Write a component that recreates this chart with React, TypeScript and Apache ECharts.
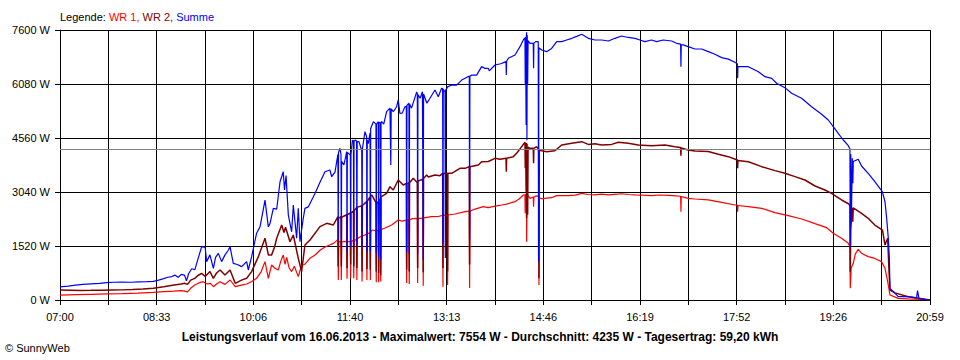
import React, { useEffect, useRef } from "react";
import * as echarts from "echarts";

// time axis: 07:00 .. 20:59, 18 grid steps, labels on every second step
const TICK_LABELS = ["07:00", "08:33", "10:06", "11:40", "13:13", "14:46", "16:19", "17:52", "19:26", "20:59"];
const DAY_MINUTES = 839;
const X_STEPS = 18;
const Y_MAX = 7600;
const Y_STEP = 1520;
const AVERAGE = 4235;

const LEGEND = ["Legende: ", "WR 1, ", "WR 2, ", "Summe"];
const TITLE = "Leistungsverlauf vom 16.06.2013 - Maximalwert: 7554 W - Durchschnitt: 4235 W - Tagesertrag: 59,20 kWh";
const COPYRIGHT = "© SunnyWeb";

// [minutes after 07:00, watts]
const wr1: [number, number][] = [
  [0,140],[15,150],[30,160],[45,170],[60,180],[75,195],[90,215],[100,235],[110,250],[117,263],[120,250],[123,230],[126,330],[130,420],[134,480],[138,516],[142,450],[145,470],[148,375],[151,450],[154.3,516],[159.1,440],[164,563],[169,375],[175,420],[180,450],[185,520],[189.6,610],[194,800],[197.7,1080],[200.9,610],[204.1,985],[207,900],[210.5,845],[213,1100],[215.3,1267],[217,1000],[218.6,1200],[221,900],[223.4,800],[226,950],[229.8,657],[233,985],[236,1000],[241,1173],[246,1267],[251,1407],[256,1500],[260,1548],[264,1600],[268,1700],[268.4,560],[268.8,1650],[271,1640],[271.3,560],[271.6,1640],[276.5,1650],[276.8,600],[277.2,1640],[280,1650],[280.3,610],[280.6,1640],[283,1680],[283.3,610],[283.6,1680],[286,1700],[286.3,560],[286.6,1720],[288,1750],[291,1800],[291.3,520],[291.6,1800],[295.7,1850],[296,560],[296.3,1860],[299,1900],[299.3,560],[299.6,1920],[301,1970],[304.7,1950],[305,500],[305.3,1950],[307,1960],[307.3,500],[307.6,1960],[309,1980],[309.3,520],[309.6,1990],[313,2020],[319.8,2110],[326.2,2252],[330,2220],[334,2250],[334.3,480],[334.6,2250],[336.5,2260],[336.8,450],[337.1,2260],[340,2290],[344.6,2300],[344.9,480],[345.2,2300],[350,2300],[350.3,400],[350.6,2310],[358.4,2346],[364.8,2350],[369,2380],[369.3,375],[369.6,2380],[373.5,2393],[373.8,420],[374.1,2393],[381,2420],[390.6,2486],[394.7,2500],[395,340],[395.3,2500],[400.2,2560],[408.2,2627],[413,2600],[419.5,2640],[425.9,2674],[430.7,2700],[438.8,2768],[443,2850],[446.8,2956],[448.4,2960],[448.6,2440],[448.9,2950],[449.8,3000],[450,1642],[450.4,2900],[451,2950],[453.2,2862],[456.4,2900],[456.7,2627],[457,2900],[459.6,2930],[461.6,2920],[461.9,422],[462.2,2880],[464.5,2850],[469.3,2870],[474.1,2880],[479,2937],[490,2937],[497,2950],[503.1,3003],[509,2970],[515.9,2960],[522,2980],[528.8,2960],[535,2975],[541.6,2990],[548,2970],[554.5,2960],[562,2950],[570.5,2940],[578,2955],[586.6,2945],[594,2930],[598.5,2920],[598.8,2486],[599.1,2910],[605.8,2862],[612.3,2843],[625.2,2820],[638.1,2749],[650.9,2674],[653.2,2670],[653.5,2486],[653.8,2660],[663.8,2627],[676.7,2580],[689.5,2458],[702.3,2374],[715.2,2280],[728.1,2149],[739.3,2036],[745.7,1877],[753.7,1736],[760.2,1595],[761.8,1500],[762.1,329],[763,900],[765,1032],[767,1300],[769.8,1427],[773,1314],[779.4,1220],[785.8,1170],[792.2,1080],[795.6,892],[798.2,516],[800.4,141],[808.4,47],[818,30],[830,20],[839,0]
];

const wr2: [number, number][] = [
  [0,280],[10,275],[20,270],[30,272],[40,275],[50,280],[60,285],[70,295],[80,310],[90,328],[100,370],[110,420],[117,450],[120,470],[123,440],[126,560],[130,610],[133,690],[136.6,750],[140,660],[144.6,800],[147.9,610],[151,760],[154.3,845],[159.1,704],[164,845],[169,470],[175,560],[180,610],[184.8,800],[191.3,1220],[197.7,1740],[200.9,1270],[204.1,1270],[207,1500],[209,1740],[213.8,2110],[216,1900],[217.5,2050],[221.8,1640],[225,1830],[229.8,1170],[233,800],[236.2,1548],[241.1,1689],[250.7,2064],[257.2,2158],[263.6,2111],[268,2345],[268.3,940],[268.6,2300],[271,2345],[271.3,940],[271.6,2330],[276.5,2400],[276.8,900],[277.1,2400],[280,2450],[280.3,1000],[280.6,2450],[283,2500],[283.3,950],[283.6,2520],[286,2600],[286.3,900],[286.6,2620],[288,2627],[291,2650],[291.3,800],[291.6,2660],[295.7,2768],[296,870],[296.3,2780],[299,2900],[299.3,850],[299.6,2930],[300.6,2956],[304.7,2740],[305,800],[305.3,2730],[307,2760],[307.3,760],[307.6,2780],[309,2850],[309.3,700],[309.6,2900],[315,3003],[318.2,3190],[321.4,3096],[326.2,3378],[331,3237],[334,3284],[334.3,860],[334.6,3280],[336.5,3300],[336.8,800],[337.1,3300],[340.7,3425],[344.6,3300],[344.9,900],[345.2,3350],[350,3400],[350.3,780],[350.6,3420],[353.6,3519],[355.2,3460],[361.6,3519],[366.4,3500],[369,3566],[369.3,900],[369.6,3560],[373.5,3566],[373.8,800],[374.1,3566],[377.7,3566],[385.7,3706],[390.6,3706],[394.7,3753],[395,1000],[395.3,3753],[403.4,3800],[406.6,3893],[413,3900],[419.5,3987],[424.3,3960],[430.1,3987],[430.4,3612],[430.7,3990],[437.1,4035],[440.4,4129],[445.2,4316],[448.4,4439],[448.7,3715],[449,4400],[449.5,3049],[449.8,4420],[450,2300],[450.4,4400],[451,2400],[451.4,4300],[453.2,4269],[456.4,4270],[456.7,3850],[457,4270],[459.6,4316],[461.6,4250],[461.9,610],[462.2,4222],[464.5,4200],[469.3,4176],[477.3,4200],[483.8,4363],[493.5,4410],[503.1,4457],[509.5,4380],[515.9,4400],[522.4,4363],[532,4380],[538.4,4440],[548,4410],[557.7,4363],[570.5,4340],[583.4,4363],[593,4316],[598.5,4290],[598.8,4063],[599.1,4280],[605.8,4222],[612.3,4194],[625.2,4180],[634.8,4100],[644.5,4035],[653.2,3940],[653.5,3706],[653.8,3930],[663.8,3893],[676.7,3753],[689.5,3641],[699.1,3566],[708.8,3472],[718.4,3378],[728.1,3209],[737.7,3096],[744.1,3003],[753.7,2815],[760.8,2702],[761.8,2650],[762.1,797],[762.6,2000],[764.1,2599],[764.5,2205],[765,2590],[773,2440],[779.4,2300],[785.8,2111],[793.2,1970],[795.6,1548],[798.2,1736],[799.5,800],[800.4,282],[805.2,200],[818,94],[830,40],[839,0]
];

const summe: [number, number][] = [
  [0,370],[8,390],[15,420],[22,440],[30,455],[38,470],[45,490],[52,500],[60,505],[68,500],[76,510],[84,515],[90,525],[95,560],[100,600],[104,640],[108,660],[111,700],[114,640],[117,720],[120,700],[122,540],[124,740],[127,880],[130,850],[133,1150],[136.6,1500],[140,1480],[141.4,1080],[144.6,1270],[147.9,890],[150,1200],[152.7,1310],[155.9,1080],[159.1,1270],[162.3,1400],[164,1500],[167.1,1030],[171,1000],[175.2,940],[180,1080],[181.6,845],[184.8,1220],[189.6,1880],[192.9,2060],[197.7,2810],[200.9,2060],[202.5,2150],[205.7,2580],[209,2560],[212.2,3330],[215.3,3610],[216.5,3100],[218,3500],[220.2,2390],[223.4,1920],[225,2670],[228.2,1740],[229.8,2580],[231.4,1640],[234.6,2300],[236.2,2580],[239.4,2620],[245.9,3000],[250.5,3300],[255.5,3610],[260.3,3660],[262,3470],[265.2,3600],[266.8,3890],[268,4100],[268.3,1690],[268.6,4150],[270,4270],[271,4100],[271.3,1500],[271.6,3900],[273.8,3800],[276.5,4180],[276.8,1360],[277.1,4150],[280,4080],[280.3,1500],[280.6,4100],[282,4500],[283,4480],[283.3,1500],[283.6,4480],[285.1,4500],[286,4470],[286.3,1550],[286.6,4460],[288.3,4460],[291,4200],[291.3,1500],[291.6,4250],[294.1,4740],[295.7,4600],[296,1360],[296.3,4500],[297.3,4400],[299,4700],[299.3,1360],[299.6,4830],[302.2,5020],[304.7,4950],[305,1320],[305.3,4950],[307,5020],[307.3,1200],[307.6,5000],[309,4990],[309.3,1130],[309.6,5000],[310.2,5020],[312.2,4950],[315,5300],[318.2,5400],[319,3800],[319.4,5380],[321.4,5300],[324.6,5440],[326.2,5630],[327.8,5250],[330,5260],[332.7,5440],[334,5450],[334.3,1360],[334.6,5480],[336.5,5540],[336.8,1300],[337.1,5520],[339,5400],[344,5860],[344.6,5800],[344.9,1300],[345.2,5780],[347.3,5680],[349.5,5860],[350,5850],[350.3,1130],[350.6,5800],[353.8,5540],[356.8,5680],[361.6,5910],[364.8,5720],[368,5960],[369,5950],[369.3,1600],[369.6,5930],[371.3,5860],[371.6,1180],[371.9,5900],[373.8,6000],[377.7,6050],[382.5,6050],[387.4,6190],[390.6,6240],[393.8,6290],[394.7,6300],[395,1700],[395.3,6300],[397,6330],[401.8,6330],[406.6,6570],[409.8,6520],[413,6522],[414,6450],[419.5,6615],[425,6650],[430.1,6709],[430.4,6334],[430.7,6720],[432.3,6803],[438.8,6897],[443.6,7131],[446.8,7319],[448.4,7380],[448.7,6052],[449,7400],[449.5,4926],[449.8,7450],[450,7535],[450.3,4500],[450.6,7450],[451,6052],[451.4,7300],[453.2,7225],[456.4,7225],[456.7,6522],[457,7230],[458.7,7272],[461.2,7272],[461.5,1080],[461.8,7100],[464.5,7037],[469.3,6990],[474.1,7080],[479,7272],[483.8,7272],[488.6,7320],[493.5,7366],[498.3,7420],[503.1,7479],[509.5,7366],[515.9,7319],[522.4,7319],[528.8,7290],[535.2,7366],[541.6,7432],[548,7390],[554.5,7366],[559.3,7319],[564.1,7272],[570.5,7319],[575.3,7272],[581.8,7319],[589.8,7290],[594.6,7225],[598.5,7200],[598.8,6568],[599.1,7180],[601,7180],[605.8,7131],[612.3,7065],[618.7,7065],[625.2,6990],[631.6,6916],[638.1,6822],[644.5,6780],[650.9,6690],[653.2,6650],[653.5,6240],[653.8,6568],[663.8,6568],[673.5,6427],[679.9,6286],[686.3,6240],[691.1,6100],[699.1,5977],[705.5,5818],[715.2,5677],[724.8,5442],[734.5,5227],[740.9,5067],[745.7,4879],[750.5,4691],[755.4,4504],[760.2,4344],[761.8,4250],[762.1,1500],[762.6,4100],[763.2,2300],[764.1,3987],[764.6,3284],[765,3900],[768.2,3940],[769.8,3960],[773,3772],[779.4,3565],[785.8,3331],[790.6,3143],[793,3050],[795.6,2768],[797.2,2300],[798.8,1736],[799.8,1173],[800.4,329],[803.6,235],[808.4,94],[818,94],[826,60],[827,268],[828.3,47],[837.3,0],[839,0]
];

const FONT = '"Liberation Sans", Arial, sans-serif';

export default function App() {
  const ref = useRef<HTMLDivElement>(null);

  useEffect(() => {
    const chart = echarts.init(ref.current!, null, { renderer: "svg" });
    const toSteps = (d: [number, number][]) => d.map(([m, w]) => [(m * X_STEPS) / DAY_MINUTES, w]);
    const lineSeries = (name: string, data: [number, number][], color: string, width: number, extra: any = {}) => ({
      name,
      type: "line",
      data: toSteps(data),
      showSymbol: false,
      symbol: "none",
      silent: true,
      lineStyle: { color, width },
      ...extra,
    });

    chart.setOption({
      animation: false,
      backgroundColor: "#ffffff",
      grid: { left: 60, right: 30, top: 30, bottom: 60, containLabel: false },
      xAxis: {
        type: "value",
        min: 0,
        max: X_STEPS,
        interval: 1,
        axisLine: { show: true, lineStyle: { color: "#000", width: 1 } },
        axisTick: { show: true, length: 5, lineStyle: { color: "#000", width: 1 } },
        splitLine: { show: true, lineStyle: { color: "#000", width: 1 } },
        axisLabel: {
          color: "#000",
          fontSize: 11,
          fontFamily: FONT,
          margin: 11,
          showMinLabel: true,
          showMaxLabel: true,
          formatter: (v: number) => {
            const i = Math.round(v);
            return i % 2 === 0 ? TICK_LABELS[i / 2] : "";
          },
        },
      },
      yAxis: {
        type: "value",
        min: 0,
        max: Y_MAX,
        interval: Y_STEP,
        axisLine: { show: true, lineStyle: { color: "#000", width: 1 } },
        axisTick: { show: true, length: 5, lineStyle: { color: "#000", width: 1 } },
        splitLine: { show: true, lineStyle: { color: "#000", width: 1 } },
        axisLabel: {
          color: "#000",
          fontSize: 11,
          fontFamily: FONT,
          margin: 10,
          formatter: (v: number) => `${Math.round(v)} W`,
        },
      },
      series: [
        lineSeries("WR 1", wr1, "#ff0000", 1.2, {
          markLine: {
            silent: true,
            symbol: ["none", "none"],
            label: { show: false },
            lineStyle: { color: "#808080", width: 1, type: "solid" },
            data: [{ yAxis: AVERAGE }],
          },
        }),
        lineSeries("WR 2", wr2, "#800000", 1.5),
        lineSeries("Summe", summe, "#0000ff", 1.2),
      ],
      graphic: [
        {
          type: "text",
          x: 60,
          y: 17,
          style: {
            text: `{a|${LEGEND[0]}}{b|${LEGEND[1]}}{c|${LEGEND[2]}}{d|${LEGEND[3]}}`,
            font: `11px ${FONT}`,
            textVerticalAlign: "middle",
            rich: {
              a: { fill: "#000", font: `11px ${FONT}` },
              b: { fill: "#ff0000", font: `11px ${FONT}` },
              c: { fill: "#800000", font: `11px ${FONT}` },
              d: { fill: "#0000ff", font: `11px ${FONT}` },
            },
          },
        },
        {
          type: "text",
          x: 480,
          y: 337,
          style: {
            text: TITLE,
            font: `bold 12px ${FONT}`,
            fill: "#000",
            textAlign: "center",
            textVerticalAlign: "middle",
          },
        },
        {
          type: "text",
          x: 5,
          y: 348,
          style: {
            text: COPYRIGHT,
            font: `11px ${FONT}`,
            fill: "#000",
            textVerticalAlign: "middle",
          },
        },
      ],
    });
    return () => chart.dispose();
  }, []);

  return (
    <div
      ref={ref}
      style={{ position: "fixed", left: 0, top: 0, width: 960, height: 360, background: "#fff" }}
    />
  );
}
